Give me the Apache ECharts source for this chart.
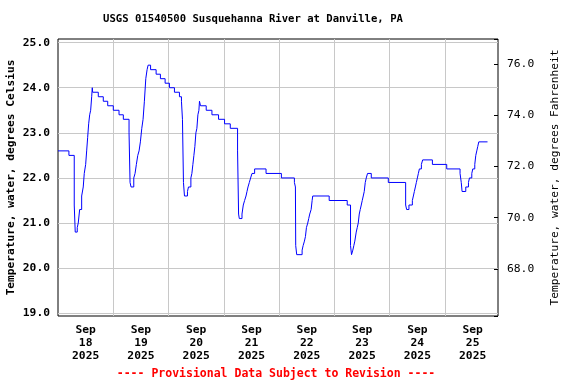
<!DOCTYPE html>
<html><head><meta charset="utf-8">
<script src="https://cdn.jsdelivr.net/npm/echarts@6/dist/echarts.min.js"></script>
<style>html,body{margin:0;padding:0;background:#fff}#c{width:576px;height:384px}</style>
</head><body><div id="c"></div>
<script>
const titleText = 'USGS 01540500 Susquehanna River at Danville, PA';
const footerText = '---- Provisional Data Subject to Revision ----';
const yNameLeft = 'Temperature, water, degrees Celsius';
const yNameRight = 'Temperature, water, degrees Fahrenheit';
const dayLabels = ['Sep\n18\n2025','Sep\n19\n2025','Sep\n20\n2025','Sep\n21\n2025','Sep\n22\n2025','Sep\n23\n2025','Sep\n24\n2025','Sep\n25\n2025'];
// hours since 2025-09-18 00:00 (value holds until next point)
const hoursSinceSep18 = [
0,4.74,7.05,7.26,7.48,8.35,8.79,9.40,10.27,10.96,11.40,12.01,12.44,12.88,13.31,13.75,14.18,14.62,14.88,15.05,17.49,19.66,21.58,24.01,26.49,28.36,30.84,31.28,31.71,
32.89,33.45,34.02,34.63,35.19,35.76,36.37,36.93,37.50,38.11,38.67,39.11,40.19,42.59,44.46,46.50,48.37,50.55,52.72,53.59,54.03,54.46,54.90,
56.20,56.64,57.68,58.12,58.55,58.99,59.42,59.86,60.29,60.73,61.16,61.42,61.86,64.34,66.82,69.69,72.30,74.78,77.95,78.39,78.70,
79.87,80.43,81.00,81.61,82.04,82.48,83.05,83.61,84.22,85.35,90.31,96.97,102.62,103.06,103.19,103.62,
105.97,106.41,106.97,107.41,107.84,108.41,108.84,109.28,109.88,110.32,110.58,117.72,125.55,126.98,127.42,
127.98,128.42,128.85,129.46,129.90,130.33,130.77,131.20,131.64,132.07,132.51,132.94,133.38,133.81,134.37,135.99,143.38,150.91,151.34,
152.34,153.82,154.26,154.69,155.13,155.56,156.00,156.43,156.87,157.74,158.30,162.52,168.74,174.53,175.05,175.40,
177.01,178.18,178.62,179.62,180.05,180.92,181.36,181.79,182.23,182.66,186.45
];
const tempC = [
22.6,22.5,21.4,21.4,20.8,20.9,21.0,21.3,21.6,21.8,22.1,22.3,22.6,22.9,23.2,23.4,23.5,23.8,24.0,23.9,23.8,23.7,23.6,23.5,23.4,23.3,23.0,21.9,21.8,
22.0,22.1,22.3,22.5,22.6,22.8,23.1,23.3,23.7,24.2,24.4,24.5,24.4,24.3,24.2,24.1,24.0,23.9,23.8,23.7,23.3,21.9,21.6,
21.7,21.8,22.0,22.1,22.3,22.5,22.7,23.0,23.1,23.4,23.5,23.7,23.6,23.5,23.4,23.3,23.2,23.1,22.6,21.2,21.1,
21.2,21.4,21.5,21.6,21.7,21.8,21.9,22.0,22.1,22.2,22.1,22.0,21.9,21.8,20.5,20.3,
20.4,20.5,20.6,20.7,20.9,21.0,21.1,21.2,21.3,21.5,21.6,21.5,21.4,20.5,20.3,
20.4,20.5,20.6,20.8,20.9,21.0,21.2,21.3,21.4,21.5,21.6,21.7,21.9,22.0,22.1,22.0,21.9,21.4,21.3,
21.4,21.5,21.6,21.7,21.8,21.9,22.0,22.1,22.2,22.3,22.4,22.3,22.2,22.1,21.9,21.7,
21.8,21.9,22.0,22.1,22.2,22.3,22.5,22.6,22.7,22.8,22.8
];
const cMin = 18.94, cMax = 25.08;
const fMin = 66.16, fMax = 76.98;
const xMaxHours = 191;

const FONT = "'DejaVu Sans Mono', monospace";
const chart = echarts.init(document.getElementById('c'), null, {renderer: 'canvas'});
const data = hoursSinceSep18.map((h, i) => [h, tempC[i]]);
const isWhole = (v, step) => Math.abs(v / step - Math.round(v / step)) < 1e-6;

chart.setOption({
  animation: false,
  backgroundColor: '#fff',
  grid: {left: 58, right: 78, top: 39, bottom: 68, containLabel: false, outerBoundsMode: 'none',
         show: true, borderColor: '#000', borderWidth: 1, backgroundColor: 'transparent'},
  graphic: [
    {type: 'text', x: 253, y: 19, style: {text: titleText, align: 'center', verticalAlign: 'middle',
      fontSize: 10.6, fontWeight: 'bold', fontFamily: FONT, fill: '#000'}},
    {type: 'text', x: 276, y: 374, style: {text: footerText, align: 'center', verticalAlign: 'middle',
      fontSize: 11.5, fontWeight: 'bold', fontFamily: FONT, fill: '#ff0000'}}
  ],
  xAxis: [
    {type: 'value', min: 0, max: xMaxHours, interval: 24, position: 'bottom',
     axisLine: {show: false, onZero: false}, axisTick: {show: false}, axisLabel: {show: false},
     splitLine: {show: true, showMinLine: false, showMaxLine: false, lineStyle: {color: '#c8c8c8', width: 1}}},
    {type: 'value', min: 0, max: xMaxHours, interval: 12, position: 'bottom',
     axisLine: {show: false, onZero: false}, axisTick: {show: false}, splitLine: {show: false},
     axisLabel: {show: true, margin: 8, color: '#000', fontFamily: FONT, fontWeight: 'bold', fontSize: 11.3, lineHeight: 12.7,
       formatter: v => (Math.round(v) % 24 === 12 ? (dayLabels[(Math.round(v) - 12) / 24] || '') : '')}}
  ],
  yAxis: [
    {type: 'value', min: cMin, max: cMax, splitNumber: 6, position: 'left',
     name: yNameLeft, nameLocation: 'middle', nameRotate: 90, nameGap: 41, nameMoveOverlap: false,
     nameTextStyle: {color: '#000', fontFamily: FONT, fontWeight: 'bold', fontSize: 11.2},
     axisLine: {show: false, onZero: false}, axisTick: {show: false}, minorTick: {show: false},
     axisLabel: {margin: 8, color: '#000', fontFamily: FONT, fontWeight: 'bold', fontSize: 11.3,
       formatter: v => isWhole(v, 1) ? v.toFixed(1) : ''},
     splitLine: {show: true, showMinLine: false, showMaxLine: false, lineStyle: {color: '#c8c8c8', width: 1}}},
    {type: 'value', min: fMin, max: fMax, splitNumber: 5, position: 'right',
     name: yNameRight, nameLocation: 'middle', nameRotate: 90, nameGap: 52, nameMoveOverlap: false,
     nameTextStyle: {color: '#000', fontFamily: FONT, fontSize: 11.2},
     axisLine: {show: false, onZero: false}, axisTick: {show: true, inside: true, length: 4, lineStyle: {color: '#000'}},
     axisLabel: {margin: 9, color: '#000', fontFamily: FONT, fontSize: 11.3,
       formatter: v => isWhole(v, 2) ? v.toFixed(1) : ''},
     splitLine: {show: false}}
  ],
  series: [{
    type: 'line', xAxisIndex: 0, yAxisIndex: 0, step: 'end', showSymbol: false, symbol: 'none',
    lineStyle: {color: '#0000ff', width: 1}, data: data, silent: true
  }]
});
</script>
</body></html>
